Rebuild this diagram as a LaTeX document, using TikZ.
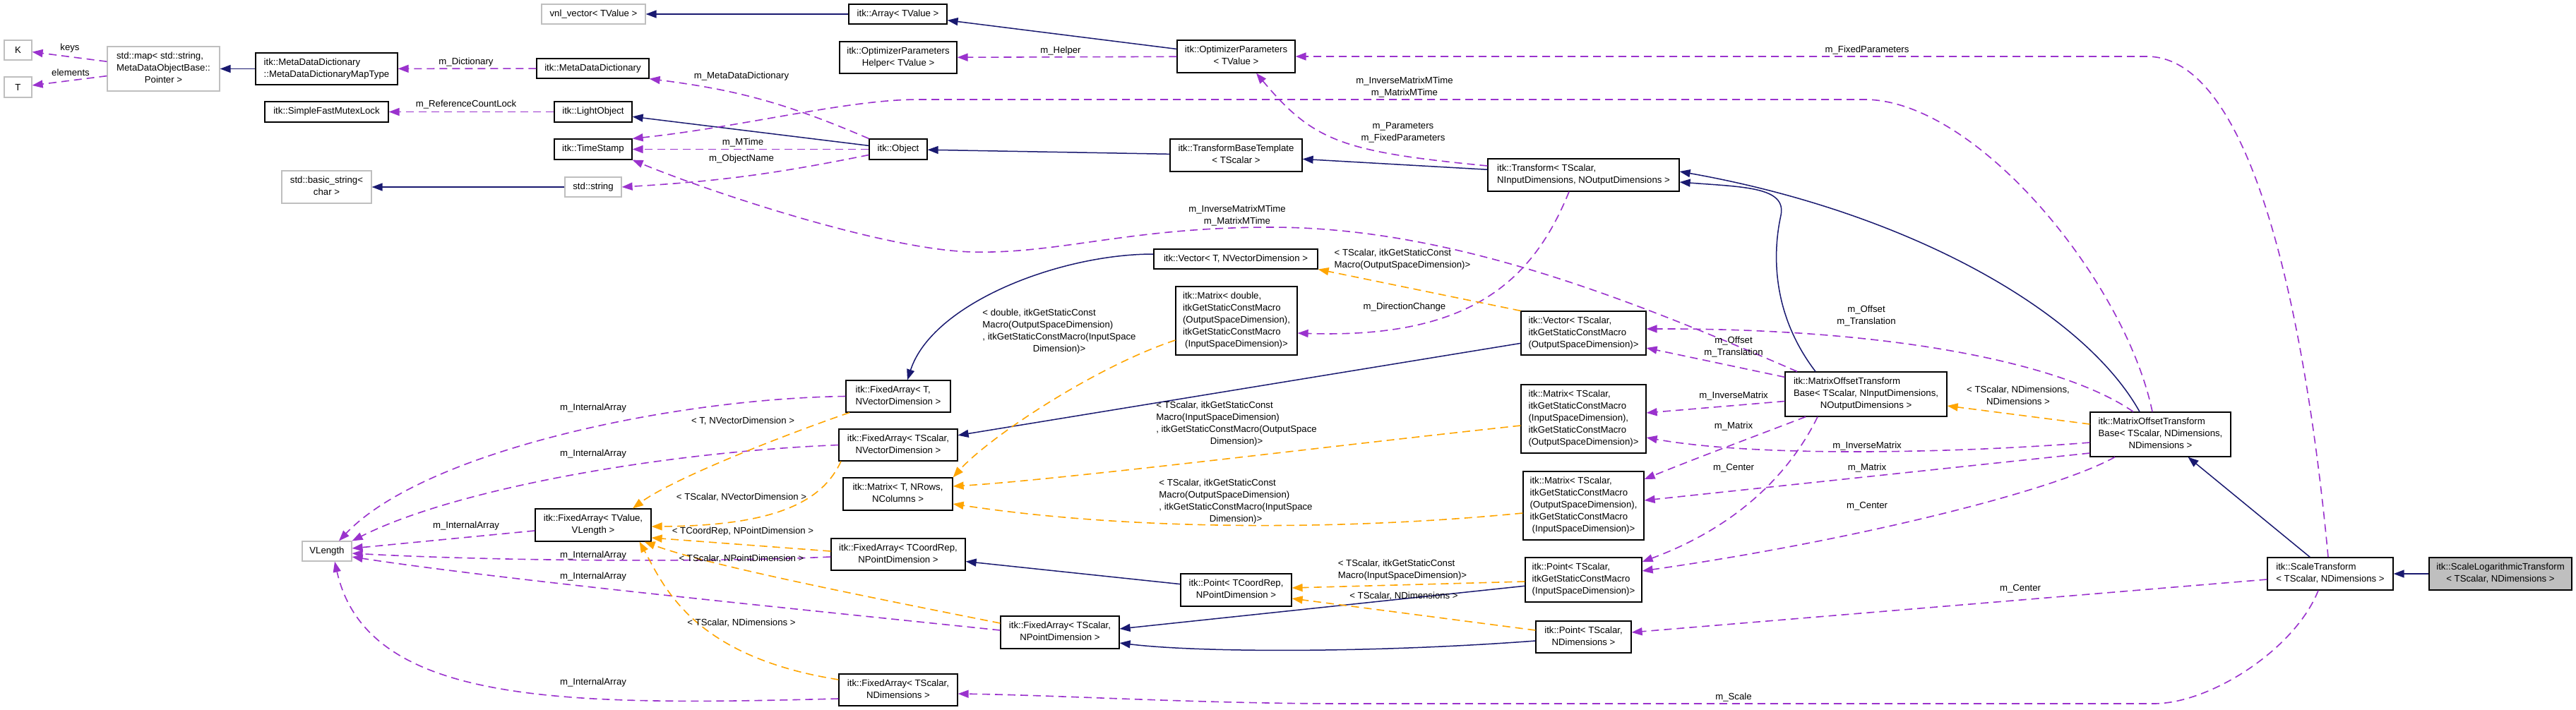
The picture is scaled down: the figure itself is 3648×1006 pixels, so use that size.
\documentclass[tikz,border=0pt]{standalone}
\usepackage{fontspec}
\setmainfont{Liberation Sans}
\usepackage{tikz}
\usetikzlibrary{arrows.meta}
\definecolor{inhblue}{HTML}{191970}
\definecolor{usepurple}{HTML}{9A32CD}
\definecolor{tplorange}{HTML}{FFA500}
\definecolor{extgray}{HTML}{BFBFBF}
\newcommand{\dlbl}[2]{\begin{tabular}{@{}l@{}}#1\\\multicolumn{1}{@{}c@{}}{#2}\end{tabular}}

\begin{document}
\begin{tikzpicture}[
  x=1pt, y=-1pt,
  font=\fontsize{13.2}{17}\selectfont,
  >={Triangle[length=15pt,width=11pt]},
  wh/.style 2 args={minimum width=#1pt, minimum height=#2pt},
  clsnode/.style={draw=black, fill=white, line width=1.2pt, inner sep=0pt},
  extnode/.style={clsnode, draw=extgray},
  lblnode/.style={inner sep=0pt, align=center},
  inhmap/.style={->, draw=inhblue, line width=1.5pt},
  usemap/.style={->, draw=usepurple, line width=1.6pt, dash pattern=on 11pt off 7pt},
  tplmap/.style={->, draw=tplorange, line width=1.6pt, dash pattern=on 11pt off 7pt}
]
  \fill[white] (0,0) rectangle (3648,1006);
  \useasboundingbox (0,0) rectangle (3648,1006);

  \node[extnode, wh={147}{28}] (vnlvec) at (840.5,20) {vnl\_vector< TValue >};
  \node[extnode, wh={39}{28}] (kkey) at (25.5,71) {K};
  \node[extnode, wh={39}{29}] (telem) at (25.5,123.5) {T};
  \node[extnode, wh={159}{63}] (stdmap) at (231.5,97.5) {\dlbl{std::map< std::string,\\MetaDataObjectBase::}{Pointer >}};
  \node[clsnode, wh={201}{45}] (maptype) at (462.5,97.5) {\dlbl{itk::MetaDataDictionary}{::MetaDataDictionaryMapType}};
  \node[clsnode, wh={159}{28}] (mdd) at (839.5,97) {itk::MetaDataDictionary};
  \node[clsnode, wh={175}{29}] (mutex) at (462.5,158.5) {itk::SimpleFastMutexLock};
  \node[clsnode, wh={110}{29}] (lightobj) at (840,158.5) {itk::LightObject};
  \node[clsnode, wh={110}{29}] (tstamp) at (840,211.5) {itk::TimeStamp};
  \node[extnode, wh={127}{46}] (basicstr) at (462.5,265) {\dlbl{std::basic\_string<}{char >}};
  \node[extnode, wh={80}{28}] (stdstr) at (840,265) {std::string};
  \node[clsnode, wh={139}{28}] (itkarray) at (1271.5,20) {itk::Array< TValue >};
  \node[clsnode, wh={166}{45}] (opthelper) at (1272,81.5) {\dlbl{itk::OptimizerParameters}{Helper< TValue >}};
  \node[clsnode, wh={167}{46}] (optparams) at (1750.5,80) {\dlbl{itk::OptimizerParameters}{< TValue >}};
  \node[clsnode, wh={82}{29}] (object) at (1272,211.5) {itk::Object};
  \node[clsnode, wh={187}{46}] (tbtempl) at (1750.5,220) {\dlbl{itk::TransformBaseTemplate}{< TScalar >}};
  \node[clsnode, wh={271}{46}] (transform) at (2242.5,248) {\dlbl{itk::Transform< TScalar,}{NInputDimensions, NOutputDimensions >}};
  \node[clsnode, wh={232}{28}] (vect) at (1750,367) {itk::Vector< T, NVectorDimension >};
  \node[clsnode, wh={172}{97}] (matdbl) at (1751,454.5) {\dlbl{itk::Matrix< double,\\itkGetStaticConstMacro\\(OutputSpaceDimension),\\itkGetStaticConstMacro}{(InputSpaceDimension)>}};
  \node[clsnode, wh={148}{45}] (fat) at (1272,561.5) {\dlbl{itk::FixedArray< T,}{NVectorDimension >}};
  \node[clsnode, wh={168}{45}] (fascvec) at (1272,630.5) {\dlbl{itk::FixedArray< TScalar,}{NVectorDimension >}};
  \node[clsnode, wh={177}{62}] (vecsc) at (2242.5,472) {\dlbl{itk::Vector< TScalar,\\itkGetStaticConstMacro}{(OutputSpaceDimension)>}};
  \node[clsnode, wh={229}{63}] (motbio) at (2642.5,558.5) {\dlbl{itk::MatrixOffsetTransform\\Base< TScalar, NInputDimensions,}{NOutputDimensions >}};
  \node[clsnode, wh={177}{97}] (matio) at (2242.5,593.5) {\dlbl{itk::Matrix< TScalar,\\itkGetStaticConstMacro\\(InputSpaceDimension),\\itkGetStaticConstMacro}{(OutputSpaceDimension)>}};
  \node[clsnode, wh={171}{97}] (matoi) at (2242.5,716.5) {\dlbl{itk::Matrix< TScalar,\\itkGetStaticConstMacro\\(OutputSpaceDimension),\\itkGetStaticConstMacro}{(InputSpaceDimension)>}};
  \node[clsnode, wh={165}{63}] (ptin) at (2242.5,821.5) {\dlbl{itk::Point< TScalar,\\itkGetStaticConstMacro}{(InputSpaceDimension)>}};
  \node[clsnode, wh={135}{45}] (ptn) at (2242.5,902.5) {\dlbl{itk::Point< TScalar,}{NDimensions >}};
  \node[clsnode, wh={199}{63}] (motbn) at (3059.5,615.5) {\dlbl{itk::MatrixOffsetTransform\\Base< TScalar, NDimensions,}{NDimensions >}};
  \node[clsnode, wh={178}{46}] (scalet) at (3300,813) {\dlbl{itk::ScaleTransform}{< TScalar, NDimensions >}};
  \node[clsnode, fill=extgray, wh={202}{46}] (scalelog) at (3541,813) {\dlbl{itk::ScaleLogarithmicTransform}{< TScalar, NDimensions >}};
  \node[clsnode, wh={155}{46}] (matt) at (1271.5,700) {\dlbl{itk::Matrix< T, NRows,}{NColumns >}};
  \node[clsnode, wh={190}{45}] (facoord) at (1272,785.5) {\dlbl{itk::FixedArray< TCoordRep,}{NPointDimension >}};
  \node[clsnode, wh={157}{46}] (ptcoord) at (1750.5,836) {\dlbl{itk::Point< TCoordRep,}{NPointDimension >}};
  \node[clsnode, wh={168}{46}] (fascpt) at (1501,896) {\dlbl{itk::FixedArray< TScalar,}{NPointDimension >}};
  \node[clsnode, wh={168}{45}] (fascn) at (1272,977.5) {\dlbl{itk::FixedArray< TScalar,}{NDimensions >}};
  \node[extnode, wh={70}{28}] (vlength) at (463,781) {VLength};
  \node[clsnode, wh={164}{46}] (faval) at (840,744) {\dlbl{itk::FixedArray< TValue,}{VLength >}};

  \draw[inhmap] (maptype) -- (stdmap);
  \draw[inhmap] (stdstr) -- (basicstr);
  \draw[inhmap] (itkarray) -- (vnlvec);
  \draw[inhmap] (optparams) -- (itkarray);
  \draw[inhmap] (object) -- (lightobj);
  \draw[inhmap] (tbtempl) -- (object);
  \draw[inhmap] (transform) -- (tbtempl);
  \draw[inhmap] ([xshift=-71.5pt]motbio.north) .. controls (2505,440) and (2512,350) .. (2522,305) .. controls (2530,265) and (2470,265) .. ([yshift=-10pt]transform.east);
  \draw[inhmap] ([xshift=-29.5pt]motbn.north) .. controls (2950,440) and (2700,300) .. ([yshift=5pt]transform.east);
  \draw[inhmap] ([yshift=7pt]vect.west) .. controls (1500,360) and (1320,430) .. ([xshift=13pt]fat.north);
  \draw[inhmap] (vecsc) -- (fascvec);
  \draw[inhmap] (ptcoord) -- (facoord);
  \draw[inhmap] (ptin) -- ([yshift=5pt]fascpt.east);
  \draw[inhmap] ([yshift=-5.5pt]ptn.west) .. controls (1950,925) and (1700,925) .. ([yshift=-15pt]fascpt.east);
  \draw[inhmap] (scalet) -- (motbn);
  \draw[inhmap] (scalelog) -- (scalet);

  \draw[usemap] (stdmap) -- (kkey);
  \draw[usemap] (stdmap) -- (telem);
  \draw[usemap] (mdd) -- (maptype);
  \draw[usemap] (lightobj) -- (mutex);
  \draw[usemap] (object.north west) to[bend right=8] (mdd.south east);
  \draw[usemap] (object) -- (tstamp);
  \draw[usemap] ([yshift=-8pt]object.west) to[bend left=4] (stdstr.east);
  \draw[usemap] ([xshift=-11.5pt]motbn.north) .. controls (3010,400) and (2800,141) .. (2640,141) -- (1300,141) .. controls (1200,141) and (1050,180) .. (tstamp.north east);
  \draw[usemap] ([xshift=-97.5pt]motbio.north) .. controls (2300,420) and (2050,322) .. (1800,322) .. controls (1600,322) and (1500,360) .. (1377,357) .. controls (1250,354) and (1000,270) .. (tstamp.south east);
  \draw[usemap] ([yshift=13pt]transform.west) .. controls (1900,215) and (1860,200) .. ([xshift=28.5pt]optparams.south);
  \draw[usemap] ([xshift=-3pt]scalet.north) .. controls (3270,500) and (3200,80) .. (3040,80) -- (optparams.east);
  \draw[usemap] (optparams) -- (opthelper);
  \draw[usemap] ([xshift=-20.5pt]transform.south) .. controls (2170,400) and (2080,480) .. ([yshift=-17.5pt]matdbl.east);
  \draw[usemap] (motbio) -- ([yshift=-21pt]vecsc.east);
  \draw[usemap] ([xshift=-38.5pt]motbn.north) .. controls (2930,520) and (2700,465) .. ([yshift=6pt]vecsc.east);
  \draw[usemap] ([yshift=-10pt]motbio.west) -- ([yshift=8.5pt]matio.east);
  \draw[usemap] ([yshift=-11.5pt]motbn.west) .. controls (2800,640) and (2500,650) .. ([yshift=-26.5pt]matio.east);
  \draw[usemap] ([xshift=-85.5pt]motbio.south) .. controls (2480,620) and (2400,650) .. ([yshift=37.5pt]matoi.east);
  \draw[usemap] ([yshift=-26.5pt]motbn.west) -- ([yshift=7.5pt]matoi.east);
  \draw[usemap] ([xshift=-68.5pt]motbio.south) .. controls (2530,680) and (2450,750) .. ([yshift=25.5pt]ptin.east);
  \draw[usemap] ([xshift=-64.5pt]motbn.south) .. controls (2900,700) and (2600,770) .. ([yshift=12.5pt]ptin.east);
  \draw[usemap] ([yshift=-8pt]scalet.west) -- ([yshift=6.5pt]ptn.east);
  \draw[usemap] ([xshift=-17pt]scalet.south) .. controls (3250,920) and (3130,997) .. (3050,997) -- (1900,997) .. controls (1700,997) and (1500,985) .. ([yshift=-5.5pt]fascn.east);
  \draw[usemap] (faval) -- ([yshift=4pt]vlength.east);
  \draw[usemap] ([yshift=-3.5pt]facoord.west) .. controls (1000,797) and (700,795) .. ([yshift=-3pt]vlength.east);
  \draw[usemap] ([yshift=3pt]fascpt.west) .. controls (1100,860) and (700,820) .. ([yshift=-8pt]vlength.east);
  \draw[usemap] ([yshift=-12.5pt]fascn.west) .. controls (800,1000) and (520,1000) .. ([xshift=11pt]vlength.south);
  \draw[usemap] (fat.west) .. controls (950,565) and (600,640) .. ([xshift=17pt]vlength.north);
  \draw[usemap] (fascvec.west) .. controls (950,640) and (650,690) .. (vlength.north east);

  \draw[tplmap] ([yshift=-27.5pt]matdbl.west) .. controls (1550,520) and (1400,620) .. (matt.north east);
  \draw[tplmap] ([yshift=-9.5pt]matio.west) .. controls (1900,630) and (1500,680) .. ([yshift=11pt]matt.east);
  \draw[tplmap] ([yshift=-10.5pt]matoi.west) .. controls (1900,752) and (1600,752) .. ([yshift=-14pt]matt.east);
  \draw[tplmap] (vecsc.north west) -- (vect.south east);
  \draw[tplmap] ([xshift=-69pt]fat.south) .. controls (1100,620) and (950,680) .. ([xshift=56pt]faval.north);
  \draw[tplmap] ([xshift=-81pt]fascvec.south) .. controls (1165,710) and (1100,745) .. ([yshift=-2pt]faval.east);
  \draw[tplmap] ([yshift=4.5pt]facoord.west) -- ([yshift=-18pt]faval.east);
  \draw[tplmap] ([yshift=13pt]fascpt.west) .. controls (1200,840) and (1000,800) .. ([xshift=-10pt]faval.south east);
  \draw[tplmap] ([yshift=14.5pt]fascn.west) .. controls (980,930) and (940,830) .. ([xshift=-17pt]faval.south east);
  \draw[tplmap] ([yshift=14.5pt]motbn.west) -- ([yshift=-16.5pt]motbio.east);
  \draw[tplmap] ([yshift=-2.5pt]ptin.west) -- ([yshift=3pt]ptcoord.east);
  \draw[tplmap] ([yshift=9.5pt]ptn.west) -- ([yshift=-12pt]ptcoord.east);

  \node[lblnode] (lkeys) at (99,68) {keys};
  \node[lblnode] (lelem) at (100,103) {elements};
  \node[lblnode] (ldict) at (660,88) {m\_Dictionary};
  \node[lblnode] (lrefcnt) at (660,148) {m\_ReferenceCountLock};
  \node[lblnode] (lmdd) at (1050,108) {m\_MetaDataDictionary};
  \node[lblnode] (lmtime) at (1052,202) {m\_MTime};
  \node[lblnode] (lobjname) at (1050,225) {m\_ObjectName};
  \node[lblnode] (lhelper) at (1502,72) {m\_Helper};
  \node[lblnode] (lfixed) at (2644,71) {m\_FixedParameters};
  \node[lblnode] (lmtimen) at (1989,123.5) {m\_InverseMatrixMTime\\m\_MatrixMTime};
  \node[lblnode] (lparams) at (1987,187.5) {m\_Parameters\\m\_FixedParameters};
  \node[lblnode] (lmtimeio) at (1752,305.5) {m\_InverseMatrixMTime\\m\_MatrixMTime};
  \node[lblnode] (ldirch) at (1989,435) {m\_DirectionChange};
  \node[lblnode] (lvecsc) at (1986,367.5) {\dlbl{< TScalar, itkGetStaticConst}{Macro(OutputSpaceDimension)>}};
  \node[lblnode] (loffio) at (2455,491.5) {m\_Offset\\m\_Translation};
  \node[lblnode] (loffn) at (2643,448) {m\_Offset\\m\_Translation};
  \node[lblnode] (linvio) at (2455,561) {m\_InverseMatrix};
  \node[lblnode] (linvn) at (2644,632) {m\_InverseMatrix};
  \node[lblnode] (lmatio) at (2455,604) {m\_Matrix};
  \node[lblnode] (lmatn) at (2644,663) {m\_Matrix};
  \node[lblnode] (lcenio) at (2455,663) {m\_Center};
  \node[lblnode] (lcenn) at (2644,717) {m\_Center};
  \node[lblnode] (lcens) at (2861,834) {m\_Center};
  \node[lblnode] (lscale) at (2455,988) {m\_Scale};
  \node[lblnode] (ltpln) at (2858,560.5) {< TScalar, NDimensions,\\NDimensions >};
  \node[lblnode] (lia1) at (660,745) {m\_InternalArray};
  \node[lblnode] (lia2) at (840,787) {m\_InternalArray};
  \node[lblnode] (lia3) at (840,817) {m\_InternalArray};
  \node[lblnode] (lia4) at (840,967) {m\_InternalArray};
  \node[lblnode] (lia5) at (840,578) {m\_InternalArray};
  \node[lblnode] (lia6) at (840,643) {m\_InternalArray};
  \node[lblnode] (ltt) at (1052,597) {< T, NVectorDimension >};
  \node[lblnode] (ltscvec) at (1050,705) {< TScalar, NVectorDimension >};
  \node[lblnode] (ltcoord) at (1052,753) {< TCoordRep, NPointDimension >};
  \node[lblnode] (ltscpt) at (1050,792) {< TScalar, NPointDimension >};
  \node[lblnode] (ltscn) at (1050,883) {< TScalar, NDimensions >};
  \node[lblnode] (ltdbl) at (1500,469.5) {\dlbl{< double, itkGetStaticConst\\Macro(OutputSpaceDimension)\\, itkGetStaticConstMacro(InputSpace}{Dimension)>}};
  \node[lblnode] (ltio) at (1751,601) {\dlbl{< TScalar, itkGetStaticConst\\Macro(InputSpaceDimension)\\, itkGetStaticConstMacro(OutputSpace}{Dimension)>}};
  \node[lblnode] (ltoi) at (1750,710.5) {\dlbl{< TScalar, itkGetStaticConst\\Macro(OutputSpaceDimension)\\, itkGetStaticConstMacro(InputSpace}{Dimension)>}};
  \node[lblnode] (ltptin) at (1986,807.5) {\dlbl{< TScalar, itkGetStaticConst}{Macro(InputSpaceDimension)>}};
  \node[lblnode] (ltptn) at (1988,845) {< TScalar, NDimensions >};
\end{tikzpicture}
\end{document}
